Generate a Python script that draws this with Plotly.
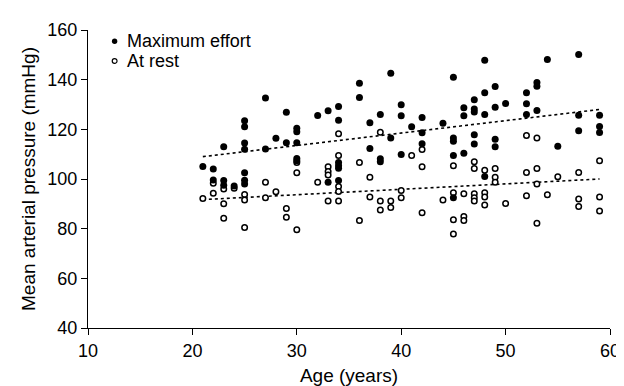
import plotly.graph_objects as go

# Maximum effort (filled) - age, mean arterial pressure
max_age = [21, 22, 22, 23, 23, 23, 24,
           25, 25, 25, 25, 25, 25, 25,
           27, 27, 28, 29, 29,
           30, 30, 30, 30, 30, 32, 33, 33,
           34, 34, 34, 34, 34, 34, 36, 36, 37, 37, 38, 38, 38,
           39, 39, 40, 40, 40, 41, 42, 42, 42, 44,
           45, 45, 45, 45, 45, 46, 46, 46,
           47, 47, 47, 47, 47, 48, 48, 48, 48,
           49, 49, 49, 49, 50, 52, 52, 52, 53, 53, 53,
           54, 55, 57, 57, 57, 59, 59, 59]
max_map = [105, 104, 99.6, 113, 99.4, 97.5, 97.2,
           123.5, 121, 114.5, 112, 102.5, 99.5, 98,
           132.6, 112.1, 116.4, 126.9, 114.6,
           120.4, 119, 114.6, 108.3, 107.3, 125.6, 127.5, 98.7,
           129.2, 123.7, 106.6, 105.3, 104.3, 99.4, 138.6, 132.8, 122.7, 112.3, 126, 108.2, 106.9,
           142.6, 116.5, 129.9, 125.5, 109.9, 121, 124.8, 118.6, 114.2, 122.5,
           141, 116.5, 115.2, 109.5, 92.5, 128.7, 125.5, 110.4,
           131.9, 128.2, 127, 117.8, 114.1, 147.8, 134.7, 126, 101,
           137.2, 128.9, 116, 113, 130.4, 134.7, 130.3, 126, 138.9, 137.3, 127.6,
           148.1, 113.2, 150.1, 125.7, 119.4, 125.7, 121.1, 118.7]

# At rest (open)
rest_age = [21, 22, 22, 23, 23, 23, 24, 25, 25, 25,
            27, 27, 28, 29, 29, 30, 30, 30, 32,
            33, 33, 33, 33, 34, 34, 34, 34, 34,
            36, 36, 37, 37, 38, 38, 38, 39, 39, 40, 40, 41,
            42, 42, 42, 44, 45, 45, 45, 45, 46, 46, 46,
            47, 47, 47, 47, 47, 48, 48, 48, 48, 49, 49, 49, 50,
            52, 52, 52, 53, 53, 53, 53, 54, 55, 57, 57, 57, 59, 59, 59]
rest_map = [92.1, 98.3, 94.3, 96, 90, 84.2, 96.3, 93.8, 91.5, 80.5,
            98.7, 92.5, 94.9, 88.1, 84.6, 106.6, 102.5, 79.6, 98.7,
            104.9, 103, 101.6, 91.1, 118.2, 109.5, 97, 95, 91.1,
            106.6, 83.3, 100.7, 92.8, 118.8, 91.1, 87.5, 91.1, 88.5, 95.4, 92.5, 109.5,
            111.9, 104.9, 86.4, 91.5, 105.3, 94.5, 83.6, 77.9, 94.1, 84.9, 83.3,
            106.9, 104.2, 94.1, 92.5, 91.1, 103.5, 94.5, 92.8, 89.5, 104.2, 100.7, 98.7, 90.1,
            117.5, 102.6, 93.3, 116.5, 104.2, 98, 82.2, 93.7, 100.9, 102.6, 91.9, 88.9, 107.3, 92.8, 87.1]

# Regression lines (values at the end ages)
trend_age = [21, 59]
max_trend = [109.0, 128.0]
rest_trend = [91.7, 100.0]

x_ticks = [10, 20, 30, 40, 50, 60]
y_ticks = [40, 60, 80, 100, 120, 140, 160]
legend_labels = ["Maximum effort", "At rest"]

FONT = "Liberation Sans, Arial, sans-serif"

fig = go.Figure()

for ty in (max_trend, rest_trend):
    fig.add_trace(go.Scatter(x=trend_age, y=ty, mode="lines",
                             line=dict(color="black", width=1.6, dash="dot"),
                             showlegend=False, hoverinfo="skip"))

fig.add_trace(go.Scatter(x=rest_age, y=rest_map, mode="markers", name=legend_labels[1],
                         marker=dict(symbol="circle", size=5.5, color="white",
                                     line=dict(color="black", width=1.5)),
                         showlegend=False))
fig.add_trace(go.Scatter(x=max_age, y=max_map, mode="markers", name=legend_labels[0],
                         marker=dict(symbol="circle", size=7, color="black",
                                     line=dict(width=0)),
                         showlegend=False))

# Legend drawn as small circles plus text
leg_x = 0.051
leg_y = [0.962, 0.896]
fig.add_shape(type="circle", xref="paper", yref="paper", xsizemode="pixel", ysizemode="pixel",
              xanchor=leg_x, yanchor=leg_y[0], x0=-2.7, x1=2.7, y0=-2.7, y1=2.7,
              fillcolor="black", line=dict(width=0))
fig.add_shape(type="circle", xref="paper", yref="paper", xsizemode="pixel", ysizemode="pixel",
              xanchor=leg_x, yanchor=leg_y[1], x0=-2.4, x1=2.4, y0=-2.4, y1=2.4,
              fillcolor="white", line=dict(color="black", width=1.2))
for lab, yy in zip(legend_labels, leg_y):
    fig.add_annotation(text=lab, xref="paper", yref="paper", x=0.071, y=yy,
                       xanchor="left", yanchor="middle", showarrow=False,
                       font=dict(family=FONT, size=18, color="black"))

fig.update_layout(
    width=624, height=386,
    margin=dict(l=80, r=15, t=21, b=63),
    paper_bgcolor="white", plot_bgcolor="white",
    font=dict(family=FONT, size=18, color="black"),
    showlegend=False,
)
fig.update_xaxes(range=[10, 60], tickvals=x_ticks, ticks="outside", ticklen=6, tickwidth=1.3,
                 tickcolor="black", showline=True, linecolor="black", linewidth=1.3,
                 showgrid=False, zeroline=False,
                 title=dict(text="Age (years)", font=dict(size=19), standoff=8))
fig.update_yaxes(range=[40, 160], tickvals=y_ticks, ticks="outside", ticklen=6, tickwidth=1.3,
                 tickcolor="black", showline=True, linecolor="black", linewidth=1.3,
                 showgrid=False, zeroline=False,
                 title=dict(text="Mean arterial pressure (mmHg)", font=dict(size=19), standoff=6))

fig.write_html("out.html")
